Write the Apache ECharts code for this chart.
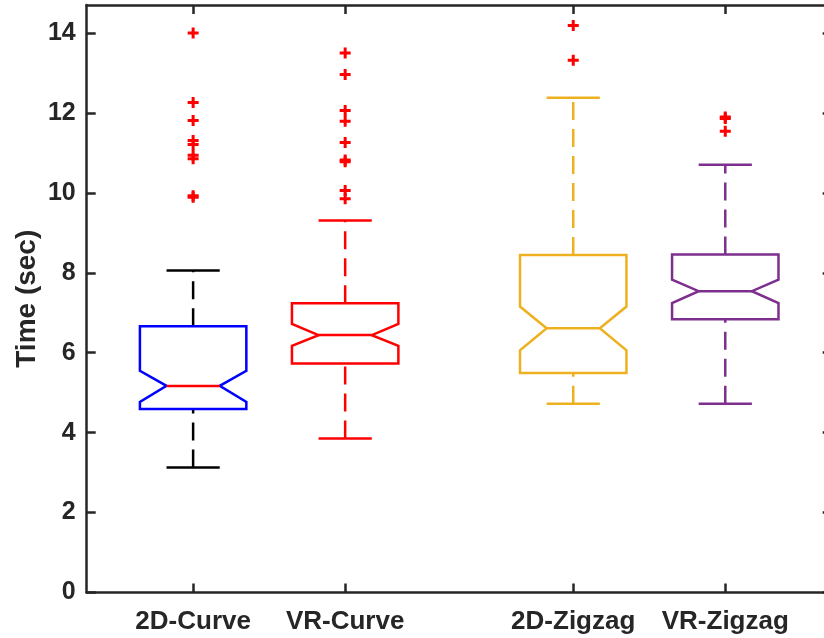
<!DOCTYPE html>
<html>
<head>
<meta charset="utf-8">
<title>Time (sec)</title>
<script src="https://cdn.jsdelivr.net/npm/echarts@6/dist/echarts.min.js"></script>
<style>
  html, body { margin: 0; padding: 0; background: #fff; }
  #chart { width: 824px; height: 638px; }
</style>
</head>
<body>
<div id="chart"></div>
<script>
// Groups and their positions along the x axis
const categories = ['2D-Curve', 'VR-Curve', '2D-Zigzag', 'VR-Zigzag'];
const positions = [1, 2, 3.5, 4.5];

// Box statistics (seconds)
const lowerWhisker = [3.13, 3.855, 4.72, 4.72];
const q1 = [4.59, 5.73, 5.495, 6.84];
const notchLow = [4.77, 6.17, 6.06, 7.24];
const median = [5.17, 6.44, 6.61, 7.54];
const notchHigh = [5.545, 6.72, 7.155, 7.83];
const q3 = [6.66, 7.24, 8.445, 8.46];
const upperWhisker = [8.055, 9.31, 12.38, 10.70];

// Outliers per group
const outliers2DCurve = [14.0, 12.26, 11.81, 11.31, 11.21, 10.94, 10.85, 9.93, 9.89];
const outliersVRCurve = [13.5, 12.96, 12.06, 11.79, 11.26, 10.82, 10.78, 10.06, 9.85];
const outliers2DZigzag = [14.19, 13.32];
const outliersVRZigzag = [11.9, 11.86, 11.54];

// Y axis ticks
const yTicks = [0, 2, 4, 6, 8, 10, 12, 14];

// Colours: box outline, median, whisker
const boxColors = ['#0000FF', '#FF0000', '#EDB120', '#7E2F8E'];
const medianColors = ['#FF0000', '#FF0000', '#EDB120', '#7E2F8E'];
const whiskerColors = ['#000000', '#FF0000', '#EDB120', '#7E2F8E'];

const axisColor = '#262626';
const fontFamily = '"Liberation Sans", Arial, Helvetica, sans-serif';

const boxData = categories.map((c, i) => [
  positions[i], lowerWhisker[i], q1[i], notchLow[i], median[i],
  notchHigh[i], q3[i], upperWhisker[i], i
]);

const outlierGroups = [outliers2DCurve, outliersVRCurve, outliers2DZigzag, outliersVRZigzag];
const outlierData = [];
outlierGroups.forEach((vals, i) => vals.forEach(v => outlierData.push([positions[i], v])));

const BOX_WIDTH = 0.7;     // in x units
const NOTCH_WIDTH = 0.35;  // width at the median
const CAP_WIDTH = 0.35;
const LW = 2.5;

function renderBox(params, api) {
  const pos = api.value(0);
  const idx = api.value(8);
  const yOf = v => api.coord([pos, v])[1];
  const xc = api.coord([pos, 0])[0];
  const halfBox = api.size([BOX_WIDTH, 0])[0] / 2;
  const halfNotch = api.size([NOTCH_WIDTH, 0])[0] / 2;
  const halfCap = api.size([CAP_WIDTH, 0])[0] / 2;

  const yLw = yOf(api.value(1));
  const yQ1 = yOf(api.value(2));
  const yNl = yOf(api.value(3));
  const yMed = yOf(api.value(4));
  const yNh = yOf(api.value(5));
  const yQ3 = yOf(api.value(6));
  const yUw = yOf(api.value(7));

  const L = xc - halfBox, R = xc + halfBox;
  const Ln = xc - halfNotch, Rn = xc + halfNotch;

  const wStyle = { stroke: whiskerColors[idx], lineWidth: LW, lineDash: [18, 9], fill: null };
  const cStyle = { stroke: whiskerColors[idx], lineWidth: LW, fill: null };

  return {
    type: 'group',
    children: [
      { type: 'line', shape: { x1: xc, y1: yQ3, x2: xc, y2: yUw }, style: wStyle },
      { type: 'line', shape: { x1: xc, y1: yLw, x2: xc, y2: yQ1 }, style: wStyle },
      { type: 'line', shape: { x1: xc - halfCap, y1: yUw, x2: xc + halfCap, y2: yUw }, style: cStyle },
      { type: 'line', shape: { x1: xc - halfCap, y1: yLw, x2: xc + halfCap, y2: yLw }, style: cStyle },
      {
        type: 'polygon',
        shape: {
          points: [
            [L, yQ1], [R, yQ1], [R, yNl], [Rn, yMed], [R, yNh],
            [R, yQ3], [L, yQ3], [L, yNh], [Ln, yMed], [L, yNl]
          ]
        },
        style: { stroke: boxColors[idx], lineWidth: LW, fill: null, lineJoin: 'miter' }
      },
      { type: 'line', shape: { x1: Ln, y1: yMed, x2: Rn, y2: yMed },
        style: { stroke: medianColors[idx], lineWidth: LW } }
    ]
  };
}

const tickLabel = {
  fontFamily: fontFamily, fontWeight: 'bold', color: axisColor
};

const frameAxis = {
  splitLine: { show: false },
  axisLine: { show: true, onZero: false, lineStyle: { color: axisColor, width: 2.5 } }
};

const chart = echarts.init(document.getElementById('chart'), null, { renderer: 'canvas' });
chart.setOption({
  animation: false,
  backgroundColor: '#ffffff',
  grid: { left: 86.7, right: -7.7, top: 5, bottom: 45.5, containLabel: false, outerBoundsMode: 'none' },
  xAxis: [
    {
      type: 'value', min: 0.3, max: 5.2, position: 'bottom',
      ...frameAxis,
      axisTick: { show: true, inside: true, length: 9, customValues: positions,
                  lineStyle: { color: axisColor, width: 2.5 } },
      axisLabel: {
        ...tickLabel, fontSize: 26, margin: 16,
        customValues: positions,
        formatter: v => { const i = positions.indexOf(v); return i >= 0 ? categories[i] : ''; }
      }
    },
    {
      type: 'value', min: 0.3, max: 5.2, position: 'top',
      ...frameAxis,
      axisTick: { show: true, inside: true, length: 9, customValues: positions,
                  lineStyle: { color: axisColor, width: 2.5 } },
      axisLabel: { show: false }
    }
  ],
  yAxis: [
    {
      type: 'value', min: 0, max: 14.7, position: 'left',
      name: 'Time (sec)', nameLocation: 'middle', nameGap: 45, nameMoveOverlap: false,
      nameTextStyle: { fontFamily: fontFamily, fontWeight: 'bold', fontSize: 28, color: axisColor },
      ...frameAxis,
      axisTick: { show: true, inside: true, length: 9, customValues: yTicks,
                  lineStyle: { color: axisColor, width: 2.5 } },
      axisLabel: { ...tickLabel, fontSize: 25, margin: 11, customValues: yTicks }
    },
    {
      type: 'value', min: 0, max: 14.7, position: 'right',
      ...frameAxis,
      axisTick: { show: true, inside: true, length: 9, customValues: yTicks,
                  lineStyle: { color: axisColor, width: 2.5 } },
      axisLabel: { show: false }
    }
  ],
  series: [
    {
      type: 'custom',
      xAxisIndex: 0, yAxisIndex: 0,
      renderItem: renderBox,
      encode: { x: 0, y: [1, 2, 3, 4, 5, 6, 7] },
      data: boxData,
      silent: true
    },
    {
      type: 'scatter',
      xAxisIndex: 0, yAxisIndex: 0,
      symbol: 'path://M4,0H7V4H11V7H7V11H4V7H0V4H4Z',
      symbolSize: 11,
      itemStyle: { color: '#FF0000', opacity: 1 },
      data: outlierData,
      silent: true
    },
    {
      // keeps the top and right frame axes bound to the grid
      type: 'scatter',
      xAxisIndex: 1, yAxisIndex: 1,
      data: [],
      silent: true
    }
  ]
});
</script>
</body>
</html>
